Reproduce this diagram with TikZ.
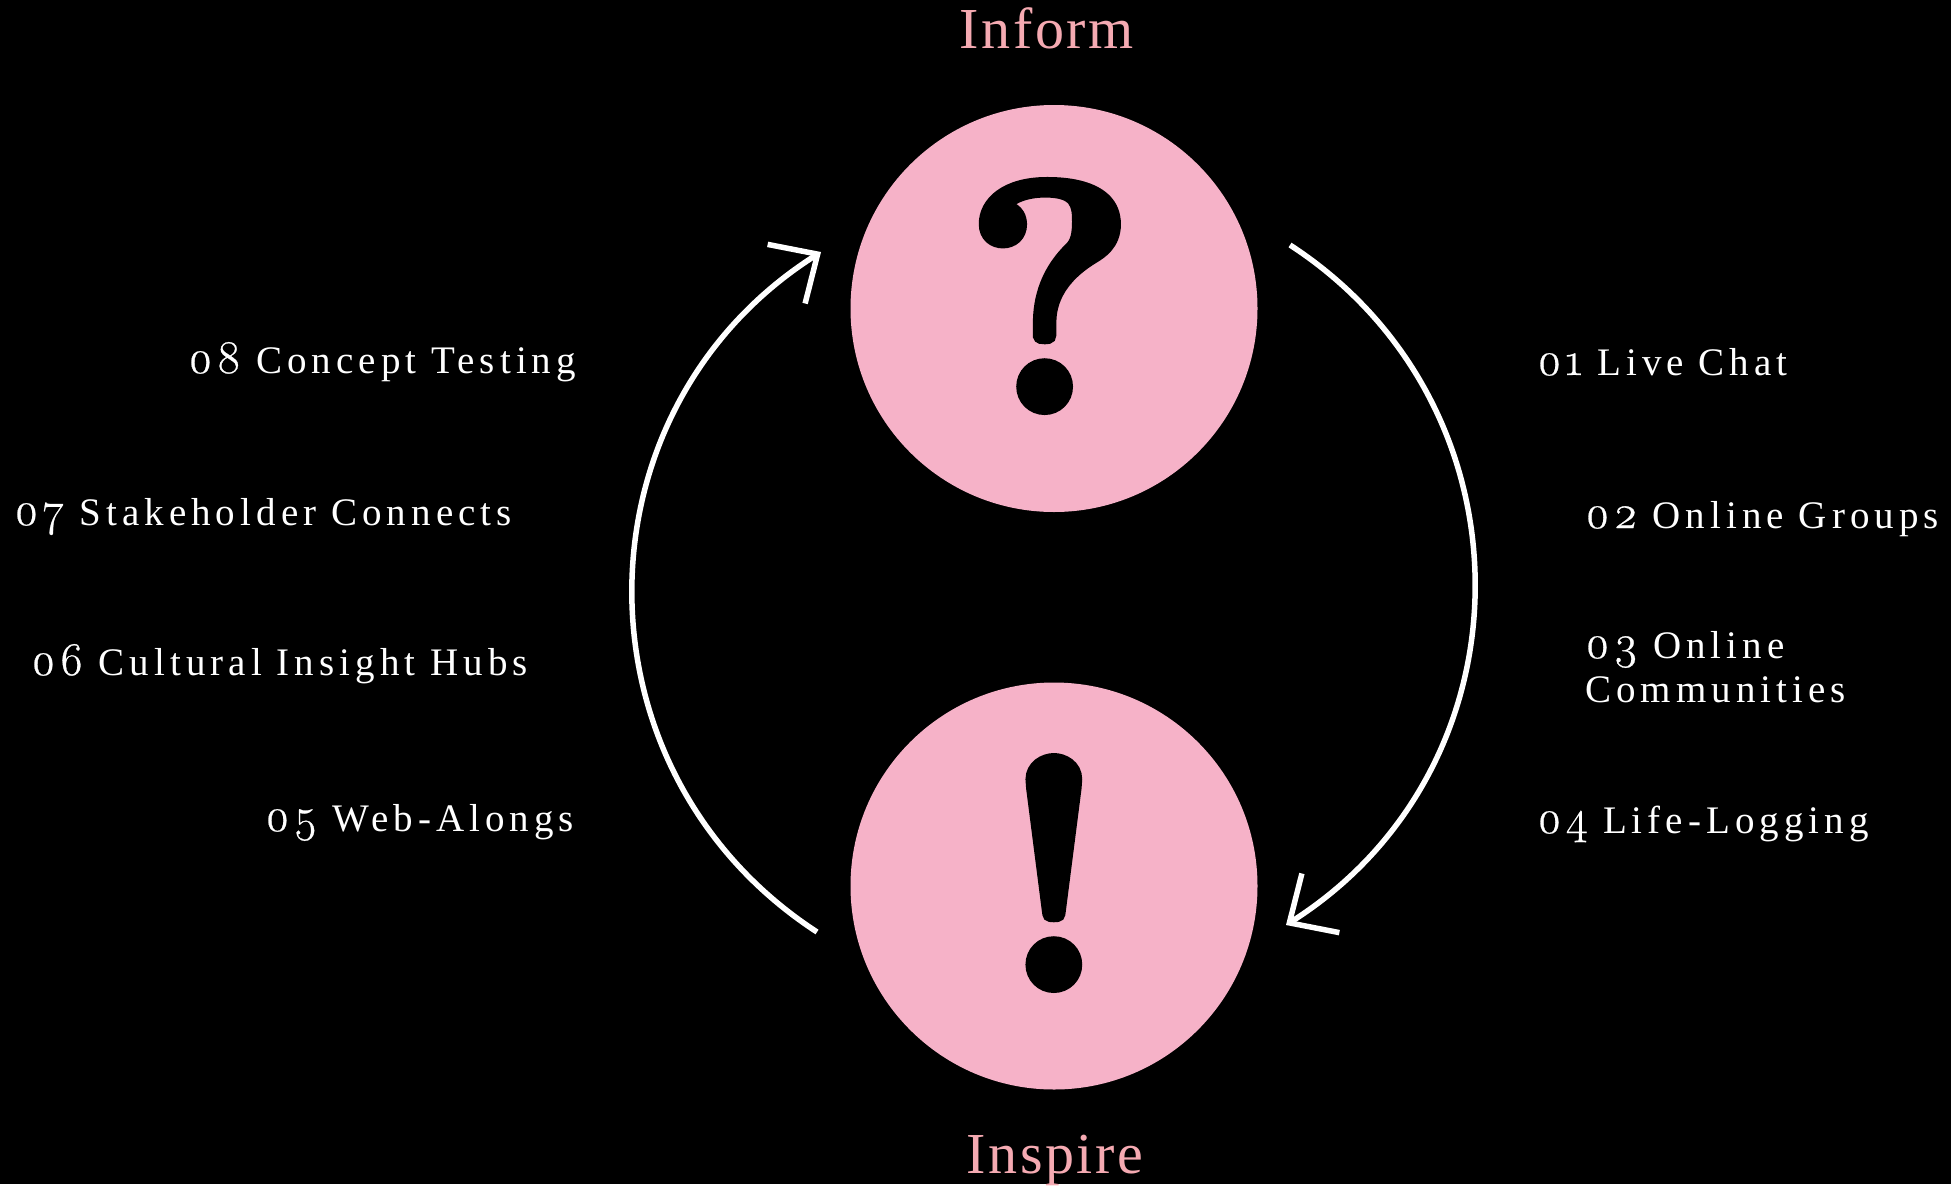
\documentclass[tikz,border=0pt]{standalone}
\usepackage{fontspec}
\setmainfont{Liberation Serif}
\newfontfamily\itemfont[LetterSpace=13]{Liberation Serif}
\newfontfamily\numfont[Numbers=OldStyle,LetterSpace=8,Scale=1.2,FakeBold=0.6]{Latin Modern Roman}
\newfontfamily\signfont[BoldFeatures={FakeBold=3}]{Latin Modern Roman}
\newfontfamily\titlefont[LetterSpace=4.5]{Liberation Serif}
\newcommand{\onum}[1]{{\numfont #1}}
\usetikzlibrary{arrows.meta, positioning}
\definecolor{rosefill}{RGB}{246,178,200}
\definecolor{rosetext}{RGB}{245,170,178}

\begin{document}
\begin{tikzpicture}[x=1pt, y=-1pt,
disc/.style={circle, fill=rosefill, minimum size=407pt, inner sep=0pt},
sign/.style={inner sep=0pt, text=black, font=\fontsize{326}{326}\selectfont\signfont\bfseries},
title/.style={inner sep=0pt, anchor=base, text=rosetext, font=\fontsize{58}{58}\selectfont\titlefont},
item/.style={inner sep=0pt, anchor=base west, text=white, align=left,
    font=\fontsize{39}{44}\selectfont\itemfont},
flow/.style={draw=white, line width=5.5pt, bend left=57.3, looseness=1.11,
    -{Straight Barb[length=37pt, width=70pt, line width=5.5pt]}}
]
\fill[black] (0,0) rectangle (1951,1184);

\node [disc] (ask) at (1054,308.5) {};
\node [disc] (tell) at (1054,886) {};
\node [sign] (ask-sign) at (1050,296) {?};
\node [sign] (tell-sign) at (1054,873) {!};

\node [title] (inform) at (1047,48) {Inform};
\node [title] (inspire) at (1055,1173) {Inspire};

\coordinate (right-start) at (1290,245);
\coordinate (right-end) at (1286,925);
\coordinate (left-start) at (817,932);
\coordinate (left-end) at (821,252);

\draw [flow] (right-start) to (right-end);
\draw [flow] (left-start) to (left-end);

\node [item] (live) at (1537,375) {\onum{01} Live Chat};
\node [item] (groups) at (1585,528) {\onum{02} Online Groups};
\node [item] (communities) at (1585,702) {\onum{03} Online\\Communities};
\node [item] (logging) at (1537,833) {\onum{04} Life-Logging};
\node [item] (alongs) at (265,831) {\onum{05} Web-Alongs};
\node [item] (hubs) at (31,675) {\onum{06} Cultural Insight Hubs};
\node [item] (connects) at (14,525) {\onum{07} Stakeholder Connects};
\node [item] (testing) at (188,373) {\onum{08} Concept Testing};
\end{tikzpicture}
\end{document}
